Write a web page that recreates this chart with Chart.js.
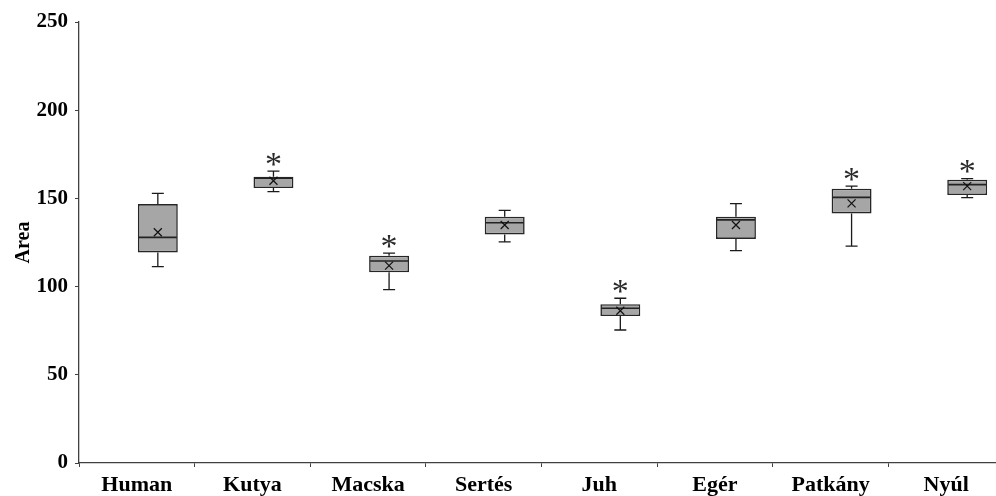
<!DOCTYPE html>
<html>
<head>
<meta charset="utf-8">
<script src="https://cdn.jsdelivr.net/npm/chart.js@4/dist/chart.umd.min.js"></script>
<style>
  html, body { margin: 0; padding: 0; background: #fff; overflow: hidden; }
  #wrap { width: 996px; height: 496px; overflow: hidden; }
  canvas { display: block; }
</style>
</head>
<body>
<div id="wrap"><canvas id="c" width="1006" height="496"></canvas></div>
<script>
// Species and their area distributions (box plot summaries)
const categories  = ['Human', 'Kutya', 'Macska', 'Sertés', 'Juh', 'Egér', 'Patkány', 'Nyúl'];
const whiskerMin  = [111.3, 153.8,  98.3, 125.3, 75.4, 120.4, 123.0, 150.4];
const q1          = [119.4, 155.9, 108.1, 129.6, 83.3, 127.0, 141.5, 151.9];
const median      = [127.9, 161.4, 114.5, 136.2, 87.7, 137.8, 150.6, 157.8];
const q3          = [146.8, 162.3, 117.5, 139.6, 90.0, 139.6, 155.5, 160.6];
const whiskerMax  = [152.9, 165.5, 119.0, 143.2, 93.4, 147.0, 157.0, 161.2];
const mean        = [130.8, 160.0, 111.9, 134.9, 86.3, 134.9, 147.2, 157.0];
const significant = [false, true, true, false, true, false, true, true];
const yTicks      = [0, 50, 100, 150, 200, 250];

const boxRanges = q1.map((v, i) => [v, q3[i]]);

// Whiskers, medians, means and significance stars on top of the boxes
const boxDetails = {
  id: 'boxDetails',
  afterDatasetsDraw(chart) {
    const ctx = chart.ctx;
    const y = chart.scales.y;
    const meta = chart.getDatasetMeta(1);
    ctx.save();
    meta.data.forEach((bar, i) => {
      const cx = bar.x;
      const half = bar.width / 2;
      const yMin = y.getPixelForValue(whiskerMin[i]);
      const yMax = y.getPixelForValue(whiskerMax[i]);
      const yQ1 = y.getPixelForValue(q1[i]);
      const yQ3 = y.getPixelForValue(q3[i]);
      const yMed = y.getPixelForValue(median[i]);
      const yMean = y.getPixelForValue(mean[i]);
      const cap = 6;

      // whiskers
      ctx.strokeStyle = '#1a1a1a';
      ctx.lineWidth = 1.3;
      ctx.beginPath();
      ctx.moveTo(cx, yQ3); ctx.lineTo(cx, yMax);
      ctx.moveTo(cx - cap, yMax); ctx.lineTo(cx + cap, yMax);
      ctx.moveTo(cx, yQ1); ctx.lineTo(cx, yMin);
      ctx.moveTo(cx - cap, yMin); ctx.lineTo(cx + cap, yMin);
      ctx.stroke();

      // median
      ctx.strokeStyle = '#222';
      ctx.lineWidth = 1.6;
      ctx.beginPath();
      ctx.moveTo(cx - half + 1, yMed); ctx.lineTo(cx + half - 1, yMed);
      ctx.stroke();

      // mean marker
      const m = 4;
      ctx.strokeStyle = '#111';
      ctx.lineWidth = 1.2;
      ctx.beginPath();
      ctx.moveTo(cx - m, yMean - m); ctx.lineTo(cx + m, yMean + m);
      ctx.moveTo(cx - m, yMean + m); ctx.lineTo(cx + m, yMean - m);
      ctx.stroke();

      // significance star, centred a little above the upper whisker
      if (significant[i]) {
        ctx.font = '34px "Liberation Serif", serif';
        ctx.fillStyle = '#2a2a2a';
        ctx.textAlign = 'center';
        ctx.textBaseline = 'alphabetic';
        const tm = ctx.measureText('*');
        const centerY = yMax - 12;
        const baseline = centerY + (tm.actualBoundingBoxAscent - tm.actualBoundingBoxDescent) / 2;
        ctx.fillText('*', cx, baseline);
      }
    });
    ctx.restore();
  }
};

new Chart(document.getElementById('c'), {
  type: 'bar',
  data: {
    labels: categories,
    datasets: [
      {
        // empty slot that places each box to the right of its category centre
        label: '',
        data: categories.map(() => null),
        backgroundColor: 'rgba(0,0,0,0)'
      },
      {
        label: 'Area',
        data: boxRanges,
        backgroundColor: '#a6a6a6',
        borderColor: '#262626',
        borderWidth: 1.6,
        borderSkipped: false
      }
    ]
  },
  options: {
    responsive: false,
    animation: false,
    devicePixelRatio: 1,
    categoryPercentage: 0.727,
    barPercentage: 0.95,
    layout: { padding: { top: 22, right: 2, left: 0, bottom: 0 } },
    plugins: {
      legend: { display: false },
      tooltip: { enabled: false }
    },
    scales: {
      x: {
        grid: {
          offset: true,
          drawOnChartArea: false,
          drawTicks: true,
          tickLength: 4,
          color: '#404040',
          lineWidth: 1
        },
        border: { display: true, color: '#404040', width: 1.3 },
        ticks: {
          color: '#000',
          padding: 5,
          maxRotation: 0,
          font: { family: '"Liberation Serif", "Times New Roman", serif', size: 22, weight: 'bold' }
        },
        afterFit(scale) { scale.height = 33; }
      },
      y: {
        min: 0,
        max: 250,
        afterBuildTicks(scale) { scale.ticks = yTicks.map(v => ({ value: v })); },
        grid: {
          drawOnChartArea: false,
          drawTicks: true,
          tickLength: 4,
          color: '#404040'
        },
        border: { display: true, color: '#404040', width: 1.3 },
        ticks: {
          color: '#000',
          padding: 7,
          font: { family: '"Liberation Serif", "Times New Roman", serif', size: 21, weight: 'bold' }
        },
        title: {
          display: true,
          text: 'Area',
          color: '#000',
          padding: { top: 12, bottom: 0 },
          font: { family: '"Liberation Serif", "Times New Roman", serif', size: 20, weight: 'bold' }
        },
        afterFit(scale) { scale.width = 79; }
      }
    }
  },
  plugins: [boxDetails]
});
</script>
</body>
</html>
